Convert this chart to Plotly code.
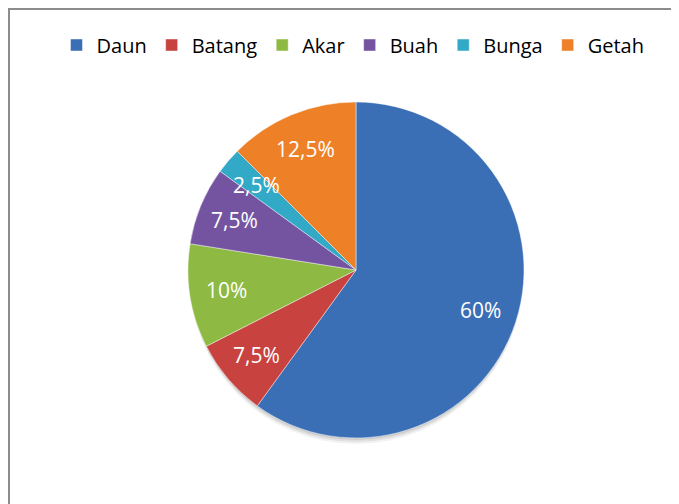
import math
import plotly.graph_objects as go

categories = ["Daun", "Batang", "Akar", "Buah", "Bunga", "Getah"]
values = [60, 7.5, 10, 7.5, 2.5, 12.5]
colors = ["#3B6FB5", "#C8423F", "#8EBA44", "#7454A1", "#32A9C6", "#EE8127"]

text_labels = [f"{v:g}".replace(".", ",") + "%" for v in values]

W, H = 679, 504
# pie geometry (pixels within the figure)
CX, CY, R = 348, 262, 168
LABEL_R = 0.78 * R

fig = go.Figure()
fig.add_trace(go.Pie(
    labels=categories,
    values=values,
    textinfo="none",
    marker=dict(colors=colors, line=dict(color="rgba(255,255,255,0.45)", width=1)),
    sort=False,
    direction="clockwise",
    rotation=0,
    domain=dict(x=[(CX - R) / W, (CX + R) / W], y=[(H - CY - R) / H, (H - CY + R) / H]),
    hoverinfo="label+percent",
))

# data labels placed at the mid-angle of each slice
annotations = []
total = sum(values)
cum = 0.0
for v, t in zip(values, text_labels):
    mid = (cum + v / 2) / total * 2 * math.pi
    cum += v
    px = CX + LABEL_R * math.sin(mid)
    py = CY - LABEL_R * math.cos(mid)
    annotations.append(dict(
        x=px / W, y=1 - py / H, xref="paper", yref="paper",
        text=t, showarrow=False, xanchor="center", yanchor="middle",
        font=dict(color="white", size=21, family="Open Sans"),
    ))

# soft drop shadow under the pie
shadow_shapes = []
for off, a in [(6, 0.05), (4, 0.07), (2, 0.09)]:
    shadow_shapes.append(dict(
        type="circle", xref="paper", yref="paper", layer="below",
        x0=(CX - R + 1) / W, x1=(CX + R - 1) / W,
        y0=1 - (CY + R + off) / H, y1=1 - (CY - R + off) / H,
        fillcolor=f"rgba(0,0,0,{a})", line=dict(width=0),
    ))

fig.update_layout(
    width=W, height=H,
    margin=dict(l=0, r=0, t=0, b=0),
    paper_bgcolor="white",
    showlegend=True,
    legend=dict(
        orientation="h",
        x=345 / W, xanchor="center",
        y=1 - 37 / H, yanchor="middle",
        font=dict(size=20, family="Open Sans", color="#000000"),
        itemwidth=30,
        traceorder="normal",
    ),
    annotations=annotations,
    shapes=[
        dict(type="rect", xref="paper", yref="paper",
             x0=1 / W, x1=1.02, y0=-0.02, y1=1 - 1 / H,
             line=dict(color="#8C8C8C", width=2), fillcolor="rgba(0,0,0,0)",
             layer="below"),
    ] + shadow_shapes,
)

fig.write_html("out.html")
